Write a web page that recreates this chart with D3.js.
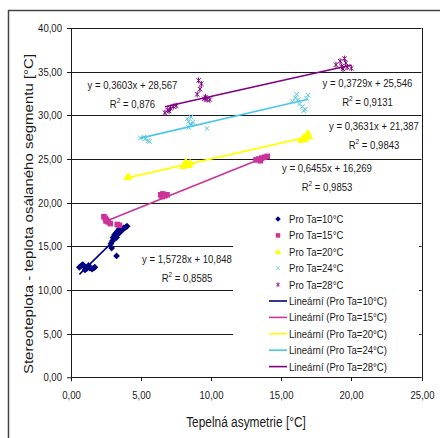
<!DOCTYPE html>
<html>
<head>
<meta charset="utf-8">
<script src="https://cdn.jsdelivr.net/npm/d3@7"></script>
<style>
body { margin: 0; background: #fff; }
svg { display: block; font-family: 'Liberation Sans', Arial, sans-serif; }
</style>
</head>
<body>
<div id="chart"></div>
<script>
// tick values
const xTicks = [0, 5, 10, 15, 20, 25];
const yTicks = [0, 5, 10, 15, 20, 25, 30, 35, 40];

const seriesNames = ['Pro Ta=10°C', 'Pro Ta=15°C', 'Pro Ta=20°C', 'Pro Ta=24°C', 'Pro Ta=28°C'];

// measured points [asymetrie, stereoteplota]
const ta10 = [[0.6, 12.6], [0.75, 12.8], [0.85, 12.9], [0.95, 12.7], [1.0, 12.3], [1.05, 12.4], [1.15, 12.5],
    [1.25, 12.8], [1.35, 12.5], [1.5, 12.4], [1.6, 12.5], [1.7, 12.6],
    [2.85, 15.3], [2.95, 15.6], [3.0, 16.0], [3.05, 15.8], [3.1, 16.3], [3.2, 16.5], [3.25, 16.0], [3.3, 16.7],
    [3.4, 16.6], [3.45, 17.0], [3.5, 16.8], [3.6, 17.0], [3.75, 17.1], [3.9, 17.2], [4.0, 17.3],
    [2.9, 14.8], [3.25, 13.9]];
const ta15 = [[2.35, 18.4], [2.45, 18.2], [2.5, 17.9], [2.55, 18.0], [2.65, 17.8], [2.8, 17.6], [3.3, 17.5], [3.45, 17.4],
    [6.4, 20.9], [6.5, 20.7], [6.55, 21.0], [6.7, 20.8], [6.85, 20.9],
    [13.2, 24.9], [13.4, 25.0], [13.5, 24.8], [13.6, 25.1], [13.8, 25.2], [14.0, 25.3]];
const ta20 = [[4.0, 22.9], [4.1, 23.0],
    [8.0, 24.2], [8.1, 24.5], [8.2, 24.7], [8.3, 24.4], [8.4, 24.3], [8.5, 24.6],
    [16.4, 27.2], [16.6, 27.5], [16.7, 27.3], [16.8, 27.8], [16.9, 28.0], [17.0, 27.6]];
const ta24 = [[4.95, 27.4], [5.2, 27.5], [5.3, 27.3], [5.5, 27.1], [5.6, 27.0],
    [8.3, 29.6], [8.4, 29.3], [8.4, 28.6], [8.5, 29.0], [8.55, 29.8], [8.6, 28.9], [8.7, 29.2], [9.7, 28.5],
    [15.8, 31.6], [16.0, 32.0], [16.1, 32.4], [16.2, 31.8], [16.3, 31.3], [16.5, 31.0], [16.6, 30.5],
    [16.7, 30.7], [16.8, 31.9], [16.9, 32.3]];
const ta28 = [[6.7, 30.3], [6.9, 30.6], [7.0, 30.5], [7.1, 30.8], [7.3, 31.0], [7.5, 31.1],
    [9.0, 32.4], [9.1, 34.0], [9.2, 33.0], [9.3, 33.6], [9.5, 31.9], [9.6, 32.1], [9.7, 31.8], [9.9, 31.8],
    [18.9, 35.8], [19.2, 36.2], [19.3, 35.6], [19.4, 35.3], [19.5, 36.5], [19.6, 36.0], [19.7, 35.5], [20.0, 35.4]];

// linear trend coefficients
const trendSlopes = [1.5728, 0.6455, 0.3631, 0.3729, 0.3603];
const trendIntercepts = [10.848, 16.269, 21.387, 25.546, 28.567];
const trendLabels = ['y = 1,5728x + 10,848', 'y = 0,6455x + 16,269', 'y = 0,3631x + 21,387',
    'y = 0,3729x + 25,546', 'y = 0,3603x + 28,567'];
const r2Values = ['0,8585', '0,9853', '0,9843', '0,9131', '0,876'];

let scatterChart = function(){
    let squeeze = 0.87;
    let colors = ['#000080', '#cc3399', '#ffff00', '#4cc6e6', '#800080'];
    let shapes = ['diamond', 'square', 'triangle', 'cross', 'star'];
    let allPoints = [ta10, ta15, ta20, ta24, ta28];
    // where Excel put the equation boxes (center x, baseline of first line)
    let labelPos = [[187, 263], [327, 172], [374, 130], [367.5, 87], [132.5, 89]];

    let marker = function(sel, shape, color){
        if (shape === 'diamond') {
            sel.append('path').attr('d', 'M0,-3.4L3.4,0L0,3.4L-3.4,0Z').attr('fill', color);
        } else if (shape === 'square') {
            sel.append('rect').attr('x', -2.8).attr('y', -2.8).attr('width', 5.6).attr('height', 5.6).attr('fill', color);
        } else if (shape === 'triangle') {
            sel.append('path').attr('d', 'M0,-4L4,3L-4,3Z').attr('fill', color);
        } else {
            sel.append('path').attr('d', 'M-2.2,-2.2L2.2,2.2M-2.2,2.2L2.2,-2.2').attr('stroke', color).attr('stroke-width', 1);
            if (shape === 'star')
                sel.append('path').attr('d', 'M0,-3L0,3').attr('stroke', color).attr('stroke-width', 1);
        }
    };

    let createView = function(){
        let svg = d3.select('#chart').append('svg')
            .attr('width', 440)
            .attr('height', 438);

        svg.append('rect').attr('width', 440).attr('height', 438).attr('fill', '#fff');
        svg.append('rect')
            .attr('x', 8.5).attr('y', 10.5)
            .attr('width', 450).attr('height', 450)
            .attr('fill', 'none').attr('stroke', '#444').attr('stroke-width', 1.5);

        let x = d3.scaleLinear().domain([0, 25]).range([71, 421.5]);
        let y = d3.scaleLinear().domain([0, 40]).range([377.3, 28]);
        let fmt = v => d3.format('.2f')(v).replace('.', ',');
        let ink = '#1a1a1a';

        // gridlines + left ticks
        svg.append('g').selectAll('line')
            .data(yTicks.filter(t => t > 0))
            .enter().append('line')
            .attr('x1', x(0) - 4).attr('x2', x(25))
            .attr('y1', t => { return Math.round(y(t)) + 0.5; })
            .attr('y2', t => { return Math.round(y(t)) + 0.5; })
            .attr('stroke', ink);

        svg.append('line')
            .attr('x1', Math.round(x(25)) + 0.5).attr('x2', Math.round(x(25)) + 0.5)
            .attr('y1', y(40)).attr('y2', y(0))
            .attr('stroke', ink);

        // axes
        let xAxis = d3.axisBottom(x).tickValues(xTicks).tickSize(4).tickSizeOuter(0).tickFormat(fmt);
        let xg = svg.append('g').attr('transform', 'translate(0,' + Math.round(y(0)) + ')').call(xAxis);
        let yAxis = d3.axisLeft(y).tickValues([0]).tickSize(4).tickSizeOuter(0).tickFormat('');
        let yg = svg.append('g').attr('transform', 'translate(' + Math.round(x(0)) + ',0)').call(yAxis);
        yg.select('.domain').attr('d', 'M0.5,' + y(40) + 'V' + (y(0) + 4));
        [xg, yg].forEach(g => {
            g.selectAll('.domain, line').attr('stroke', ink);
        });
        xg.select('.domain').attr('d', 'M' + x(0) + ',0.5H' + x(25));
        xg.selectAll('text')
            .attr('font-size', 11).attr('fill', ink).attr('y', 0).attr('dy', 0)
            .attr('transform', 'translate(0,22) scale(' + squeeze + ',1)');
        xg.selectAll('.tick').attr('transform', t => { return 'translate(' + (Math.round(x(t)) + 0.5) + ',0)'; });

        svg.append('g').selectAll('text')
            .data(yTicks)
            .enter().append('text')
            .attr('transform', t => { return 'translate(62,' + (y(t) + 4) + ') scale(' + squeeze + ',1)'; })
            .attr('text-anchor', 'end')
            .attr('font-size', 11).attr('fill', ink)
            .text(fmt);

        // axis titles
        svg.append('text')
            .attr('transform', 'translate(246,427) scale(0.82,1)')
            .attr('text-anchor', 'middle').attr('font-size', 14.5).attr('fill', ink)
            .text('Tepelná asymetrie [°C]');
        svg.append('text')
            .attr('transform', 'translate(33,214) scale(' + squeeze + ',1) rotate(-90)')
            .attr('text-anchor', 'middle').attr('font-size', 15).attr('fill', ink)
            .text('Stereoteplota - teplota osálaného segmentu [°C]');

        // legend box hides the gridlines behind it
        svg.append('rect')
            .attr('x', 233).attr('y', 205).attr('width', 186).attr('height', 170)
            .attr('fill', '#fff');

        // trend lines
        let line = d3.line().x(d => { return x(d[0]); }).y(d => { return y(d[1]); });
        allPoints.forEach((pts, i) => {
            let ext = d3.extent(pts, p => { return p[0]; });
            svg.append('path')
                .datum(ext.map(v => { return [v, trendSlopes[i] * v + trendIntercepts[i]]; }))
                .attr('d', line)
                .attr('fill', 'none')
                .attr('stroke', colors[i])
                .attr('stroke-width', 1.6);
        });

        // points
        allPoints.forEach((pts, i) => {
            svg.append('g').selectAll('g')
                .data(pts)
                .enter().append('g')
                .attr('transform', p => { return 'translate(' + x(p[0]) + ',' + y(p[1]) + ')'; })
                .each(function(){ marker(d3.select(this), shapes[i], colors[i]); });
        });

        // equation labels
        labelPos.forEach((pos, i) => {
            svg.append('text')
                .attr('transform', 'translate(' + pos[0] + ',' + pos[1] + ') scale(' + squeeze + ',1)')
                .attr('text-anchor', 'middle').attr('font-size', 11).attr('fill', ink)
                .text(trendLabels[i]);
            let r2 = svg.append('text')
                .attr('transform', 'translate(' + pos[0] + ',' + (pos[1] + 18.5) + ') scale(' + squeeze + ',1)')
                .attr('text-anchor', 'middle').attr('font-size', 11).attr('fill', ink);
            r2.append('tspan').text('R');
            r2.append('tspan').attr('dy', -4.5).attr('font-size', 7.5).text('2');
            r2.append('tspan').attr('dy', 4.5).text(' = ' + r2Values[i]);
        });

        // legend
        let rows = seriesNames.map((n, i) => { return {name: n, i: i, line: false}; })
            .concat(seriesNames.map((n, i) => { return {name: 'Lineární (' + n + ')', i: i, line: true}; }));
        let legend = svg.append('g').selectAll('g')
            .data(rows)
            .enter().append('g')
            .attr('transform', (r, k) => { return 'translate(278,' + (219 + k * 16.4) + ')'; });
        legend.each(function(r){
            let g = d3.select(this);
            if (r.line) {
                g.append('line').attr('x1', -9).attr('x2', 9)
                    .attr('stroke', colors[r.i]).attr('stroke-width', 1.6);
            } else {
                let m = g.append('g').attr('transform', 'scale(0.8)');
                marker(m, shapes[r.i], colors[r.i]);
            }
            g.append('text')
                .attr('transform', 'translate(11,4) scale(' + squeeze + ',1)')
                .attr('font-size', 11).attr('fill', ink)
                .text(r.name);
        });
    };

    return {
        createView
    };
};

scatterChart().createView();
</script>
</body>
</html>
